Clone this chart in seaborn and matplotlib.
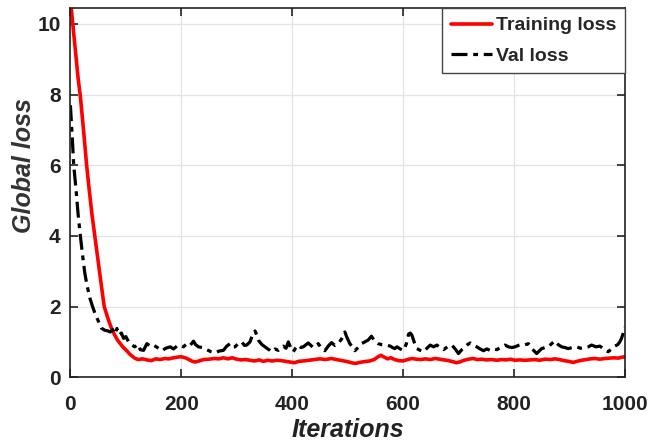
import matplotlib
matplotlib.use("Agg")
import matplotlib.pyplot as plt
from matplotlib import font_manager
import seaborn as sns
import pandas as pd

# Training curve (iteration, loss)
train_iter = [0, 5, 10, 14, 18, 24, 29, 34, 39, 44, 50, 55, 61, 67, 73, 79, 85, 90, 95, 101,
              108, 116, 122, 130, 138, 146, 154, 162, 170, 178, 186, 194, 200, 207, 214, 220,
              225, 232, 240, 250, 260, 268, 276, 284, 292, 300, 308, 316, 324, 332, 340, 348,
              356, 364, 372, 380, 388, 396, 404, 412, 420, 430, 440, 450, 460, 471, 480, 490,
              500, 507, 514, 522, 530, 540, 548, 555, 560, 566, 572, 578, 585, 592, 600, 608,
              616, 624, 632, 640, 649, 658, 666, 674, 682, 690, 696, 702, 710, 718, 726, 734,
              742, 750, 760, 769, 778, 786, 794, 802, 810, 820, 830, 838, 846, 856, 866, 874,
              882, 890, 898, 907, 914, 922, 930, 938, 946, 955, 964, 972, 980, 988, 996, 1000]
train_loss = [10.7, 9.9, 9.1, 8.45, 7.95, 6.95, 6.05, 5.3, 4.6, 4.0, 3.3, 2.7, 2.0, 1.7, 1.43,
              1.22, 1.05, 0.95, 0.85, 0.76, 0.64, 0.54, 0.50, 0.52, 0.49, 0.47, 0.52, 0.50,
              0.53, 0.52, 0.55, 0.57, 0.58, 0.55, 0.50, 0.45, 0.43, 0.46, 0.50, 0.51, 0.53,
              0.52, 0.55, 0.52, 0.55, 0.51, 0.49, 0.50, 0.48, 0.46, 0.49, 0.45, 0.48, 0.46,
              0.48, 0.47, 0.45, 0.43, 0.41, 0.45, 0.46, 0.48, 0.50, 0.52, 0.50, 0.53, 0.50,
              0.47, 0.44, 0.41, 0.39, 0.42, 0.44, 0.46, 0.50, 0.58, 0.62, 0.57, 0.52, 0.55,
              0.50, 0.47, 0.46, 0.50, 0.53, 0.51, 0.50, 0.52, 0.50, 0.53, 0.51, 0.49, 0.47,
              0.44, 0.41, 0.43, 0.48, 0.51, 0.53, 0.50, 0.51, 0.49, 0.50, 0.48, 0.50, 0.49,
              0.51, 0.48, 0.49, 0.48, 0.49, 0.50, 0.48, 0.51, 0.50, 0.52, 0.50, 0.47, 0.45,
              0.42, 0.45, 0.48, 0.50, 0.52, 0.53, 0.51, 0.53, 0.54, 0.55, 0.54, 0.57, 0.58]

# Validation curve (iteration, loss)
val_iter = [0, 3, 6, 10, 14, 18, 22, 26, 30, 35, 40, 45, 50, 56, 62, 68, 72, 76, 80, 84, 88,
            92, 96, 100, 105, 110, 116, 122, 126, 132, 138, 144, 150, 157, 165, 172, 180, 186,
            192, 198, 204, 210, 216, 222, 226, 231, 238, 246, 254, 261, 268, 276, 282, 288,
            293, 297, 303, 309, 314, 318, 324, 328, 333, 336, 339, 345, 351, 356, 360, 363,
            369, 375, 380, 384, 389, 393, 397, 402, 406, 411, 416, 420, 425, 429, 434, 438,
            443, 447, 453, 459, 465, 471, 477, 483, 489, 495, 499, 504, 509, 513, 519, 525,
            531, 537, 543, 549, 555, 562, 570, 577, 581, 585, 589, 595, 601, 606, 610, 613,
            616, 620, 625, 631, 637, 643, 649, 655, 661, 667, 673, 680, 688, 694, 700, 706,
            712, 716, 721, 727, 733, 739, 745, 751, 757, 763, 769, 776, 784, 790, 796, 802,
            808, 814, 820, 826, 833, 841, 846, 850, 856, 862, 868, 874, 880, 886, 892, 898,
            905, 913, 920, 928, 934, 940, 948, 955, 962, 970, 976, 982, 987, 991, 994, 997, 1000]
val_loss = [7.70, 6.9, 6.0, 5.35, 4.6, 4.0, 3.45, 2.95, 2.6, 2.25, 2.0, 1.78, 1.6, 1.39, 1.33,
            1.31, 1.28, 1.35, 1.22, 1.38, 1.2, 1.25, 1.1, 1.15, 1.0, 0.92, 0.86, 0.93, 0.78,
            0.76, 0.95, 0.88, 0.91, 0.84, 0.75, 0.82, 0.86, 0.80, 0.88, 0.91, 0.86, 0.95,
            0.90, 1.02, 0.92, 0.86, 0.84, 0.78, 0.72, 0.69, 0.74, 0.76, 0.88, 0.95, 0.85,
            0.86, 0.96, 1.0, 0.90, 0.91, 1.0, 1.18, 1.31, 1.2, 1.05, 0.93, 0.86, 0.80, 0.76,
            0.72, 0.8, 0.76, 0.84, 0.88, 0.82, 1.0, 0.85, 0.72, 0.82, 0.91, 0.84, 0.86, 0.92,
            0.97, 0.90, 0.84, 0.90, 0.95, 0.82, 0.75, 0.88, 0.98, 0.90, 0.95, 1.08, 1.28,
            1.12, 0.95, 0.85, 0.75, 0.84, 0.95, 1.0, 1.05, 1.16, 1.02, 0.95, 0.92, 0.91, 0.88,
            0.84, 0.81, 0.86, 0.80, 0.76, 0.95, 1.22, 1.25, 1.19, 1.0, 0.81, 0.76, 0.72, 0.82,
            0.91, 0.86, 0.91, 0.84, 0.78, 0.86, 0.91, 0.80, 0.67, 0.78, 0.86, 0.92, 0.97,
            0.90, 0.86, 0.80, 0.75, 0.80, 0.76, 0.80, 0.78, 0.84, 0.91, 0.86, 0.84, 0.86,
            0.90, 0.93, 0.92, 0.95, 0.80, 0.67, 0.75, 0.81, 0.84, 0.86, 0.95, 1.03, 0.92,
            0.86, 0.84, 0.81, 0.84, 0.86, 0.82, 0.84, 0.86, 0.91, 0.86, 0.88, 0.80, 0.72,
            0.80, 0.88, 0.92, 1.0, 1.1, 1.24, 1.42]

x_ticks = [0, 200, 400, 600, 800, 1000]
y_ticks = [0, 2, 4, 6, 8, 10]

sns.set_theme(style="whitegrid")
available = {f.name for f in font_manager.fontManager.ttflist}
family = ["Liberation Sans Narrow"] if "Liberation Sans Narrow" in available else ["Liberation Sans"]
plt.rcParams["font.family"] = family + ["DejaVu Sans"]

fig, ax = plt.subplots(figsize=(6.64, 4.48), dpi=100)
fig.subplots_adjust(left=0.106, right=0.941, top=0.982, bottom=0.158)

train_df = pd.DataFrame({"Iterations": train_iter, "loss": train_loss})
val_df = pd.DataFrame({"Iterations": val_iter, "loss": val_loss})

sns.lineplot(data=train_df, x="Iterations", y="loss", ax=ax, color="#ff0000",
             linewidth=2.6, label="Training loss")
sns.lineplot(data=val_df, x="Iterations", y="loss", ax=ax, color="black",
             linewidth=2.3, label="Val loss", dashes=False)
ax.lines[1].set_dashes([5, 1.8, 1.5, 1.8])

ax.set_xlim(0, 1000)
ax.set_ylim(0, 10.45)
ax.set_xticks(x_ticks)
ax.set_yticks(y_ticks)
ax.set_xticklabels([str(t) for t in x_ticks])
ax.set_yticklabels([str(t) for t in y_ticks])

ax.grid(True, color="#e3e3e3", linewidth=0.9)
for s in ax.spines.values():
    s.set_color("#222222")
    s.set_linewidth(1.2)
    s.set_visible(True)
ax.tick_params(axis="both", which="both", direction="in", length=6, width=1.2,
               top=True, right=True, bottom=True, left=True, colors="#222222",
               labelsize=15)
ax.tick_params(axis="x", pad=13)
ax.tick_params(axis="y", pad=7)
for lbl in ax.get_xticklabels() + ax.get_yticklabels():
    lbl.set_fontweight("bold")
    lbl.set_color("#222222")

ax.set_xlabel("Iterations", fontsize=18, fontweight="bold", fontstyle="italic",
              color="#222222", labelpad=3)
ax.set_ylabel("Global loss", fontsize=18, fontweight="bold", fontstyle="italic",
              color="#333333", va="center")
ax.yaxis.set_label_coords(-0.083, 0.572)

leg = ax.legend(loc="upper right", borderaxespad=0, fancybox=False, framealpha=1,
                edgecolor="#444444", prop={"weight": "bold", "size": 14},
                handlelength=2.1, handletextpad=0.2, borderpad=0.45, labelspacing=0.65)
leg.get_frame().set_linewidth(1.0)

fig.savefig("out.png", dpi=100)
